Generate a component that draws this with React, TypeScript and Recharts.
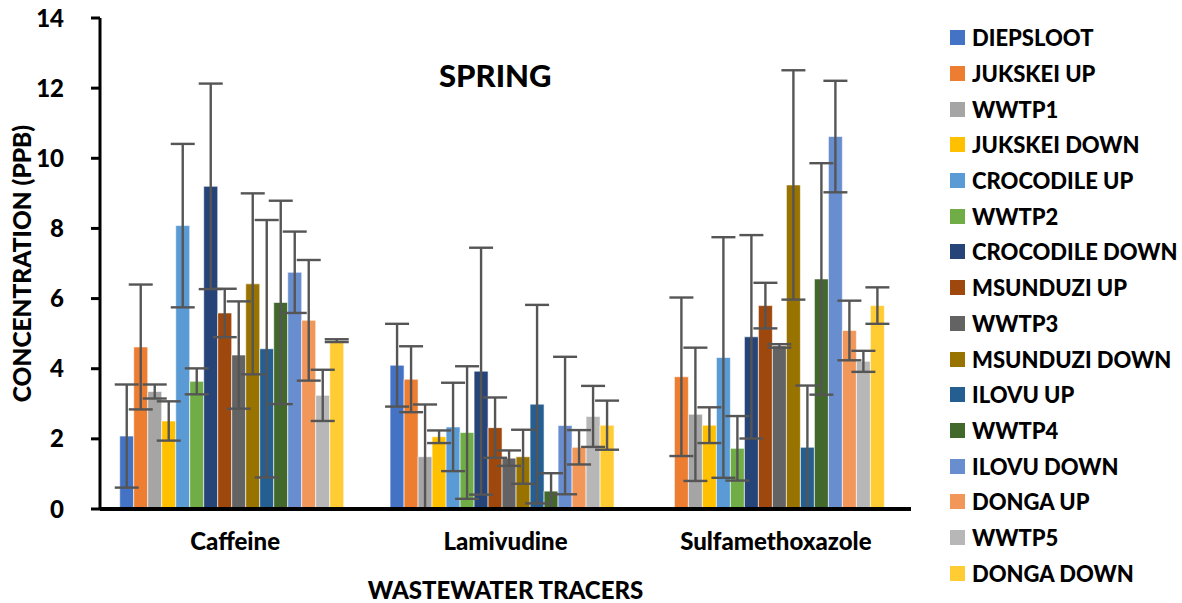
import { BarChart, Bar, XAxis, YAxis, ErrorBar } from "recharts";

// Tracers along the x axis
const tracers = ["Caffeine", "Lamivudine", "Sulfamethoxazole"];

// Sampling sites, in series order
const sites = [
  "DIEPSLOOT",
  "JUKSKEI UP",
  "WWTP1",
  "JUKSKEI DOWN",
  "CROCODILE UP",
  "WWTP2",
  "CROCODILE DOWN",
  "MSUNDUZI UP",
  "WWTP3",
  "MSUNDUZI DOWN",
  "ILOVU UP",
  "WWTP4",
  "ILOVU DOWN",
  "DONGA UP",
  "WWTP5",
  "DONGA DOWN",
];

const siteColors = [
  "#4472C4",
  "#ED7D31",
  "#A5A5A5",
  "#FFC000",
  "#5B9BD5",
  "#70AD47",
  "#264478",
  "#9E480E",
  "#636363",
  "#997300",
  "#255E91",
  "#43682B",
  "#698ED0",
  "#F1975A",
  "#B7B7B7",
  "#FFCD33",
];

// Mean concentration (ppb) per site: [caffeine, lamivudine, sulfamethoxazole]
const means = [
  [2.08, 4.1, 0],
  [4.62, 3.7, 3.77],
  [3.35, 1.49, 2.7],
  [2.51, 2.06, 2.39],
  [8.08, 2.34, 4.32],
  [3.64, 2.18, 1.73],
  [9.2, 3.93, 4.91],
  [5.59, 2.32, 5.8],
  [4.39, 1.45, 4.65],
  [6.42, 1.49, 9.24],
  [4.57, 2.99, 1.76],
  [5.89, 0.51, 6.56],
  [6.75, 2.38, 10.62],
  [5.38, 1.76, 5.09],
  [3.24, 2.64, 4.21],
  [4.8, 2.39, 5.8],
];

// Standard deviation per site, same order
const stdevs = [
  [1.47, 1.18, 0],
  [1.78, 0.94, 2.26],
  [0.2, 1.49, 1.9],
  [0.56, 0.18, 0.51],
  [2.33, 1.26, 3.43],
  [0.37, 1.89, 0.92],
  [2.93, 3.52, 2.9],
  [0.69, 0.86, 0.65],
  [1.53, 0.22, 0.05],
  [2.58, 0.77, 3.27],
  [3.67, 2.83, 1.76],
  [2.9, 0.51, 3.3],
  [1.16, 1.96, 1.59],
  [1.72, 0.49, 0.85],
  [0.73, 0.87, 0.3],
  [0.04, 0.7, 0.52],
];

const yTicks = [0, 2, 4, 6, 8, 10, 12, 14];

const rows = tracers.map((name, t) => {
  const row: Record<string, number | string> = { name };
  sites.forEach((site, s) => {
    row[site] = means[s][t];
    row[`${site}_sd`] = stdevs[s][t];
  });
  return row;
});

const FONT = "Lato, 'Open Sans', sans-serif";
const HEAVY = 900;

export default function App() {
  return (
    <div
      style={{
        position: "absolute",
        left: 0,
        top: 0,
        width: 1182,
        height: 603,
        background: "#fff",
        fontFamily: FONT,
      }}
    >
      <BarChart
        width={1182}
        height={603}
        data={rows}
        margin={{ top: 18, right: 271, bottom: 0, left: 0 }}
        barCategoryGap="7.3%"
        barGap={0}
        style={{ fontFamily: FONT }}
      >
        <XAxis
          dataKey="name"
          height={94}
          axisLine={{ stroke: "#000", strokeWidth: 4 }}
          tickLine={false}
          tickMargin={18}
          tick={{ fontSize: 24, fontWeight: HEAVY, fill: "#000" }}
          label={{
            value: "WASTEWATER TRACERS",
            position: "insideBottom",
            offset: 4,
            fontSize: 24,
            fontWeight: HEAVY,
            fill: "#000",
          }}
        />
        <XAxis
          xAxisId="top"
          orientation="top"
          dataKey="name"
          height={0}
          axisLine={{ stroke: "#000", strokeWidth: 4 }}
          tick={false}
          tickLine={false}
        />
        <YAxis
          width={100}
          domain={[0, 14]}
          ticks={yTicks}
          allowDataOverflow
          tickSize={9}
          tickMargin={27}
          axisLine={{ stroke: "#000", strokeWidth: 3 }}
          tickLine={{ stroke: "#000", strokeWidth: 3 }}
          tick={{ fontSize: 24, fontWeight: HEAVY, fill: "#000" }}
          label={{
            value: "CONCENTRATION (PPB)",
            angle: -90,
            position: "insideLeft",
            offset: 22,
            style: { textAnchor: "middle" },
            fontSize: 24.5,
            fontWeight: HEAVY,
            fill: "#000",
          }}
        />
        <YAxis
          yAxisId="right"
          orientation="right"
          width={0}
          tick={false}
          tickLine={false}
          axisLine={{ stroke: "#000", strokeWidth: 3 }}
        />
        {sites.map((site, i) => (
          <Bar
            key={site}
            dataKey={site}
            fill={siteColors[i]}
            stroke="#ffffff"
            strokeOpacity={0.6}
            strokeWidth={1}
            isAnimationActive={false}
          >
            <ErrorBar
              dataKey={`${site}_sd`}
              width={12}
              stroke="#555555"
              strokeWidth={2.4}
            />
          </Bar>
        ))}
      </BarChart>

      <div
        style={{
          position: "absolute",
          left: 439,
          top: 56,
          fontSize: 31,
          fontWeight: HEAVY,
          color: "#000",
        }}
      >
        SPRING
      </div>

      <div style={{ position: "absolute", left: 950, top: 20 }}>
        {sites.map((site, i) => (
          <div
            key={site}
            style={{
              display: "flex",
              alignItems: "center",
              height: 35.7,
              whiteSpace: "nowrap",
            }}
          >
            <span
              style={{
                width: 15,
                height: 15,
                background: siteColors[i],
                marginRight: 7,
                flexShrink: 0,
              }}
            />
            <span style={{ fontSize: 22, fontWeight: HEAVY, color: "#000" }}>
              {site}
            </span>
          </div>
        ))}
      </div>
    </div>
  );
}
